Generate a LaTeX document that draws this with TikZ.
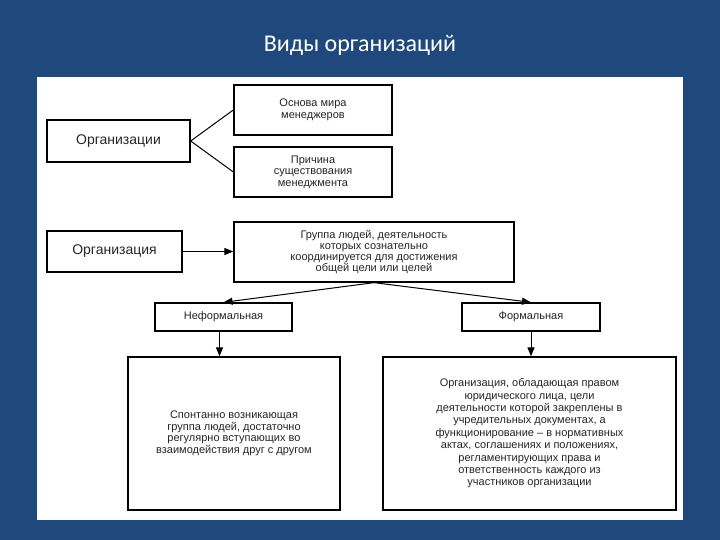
\documentclass[tikz,border=0pt]{standalone}
\usepackage{fontspec}
\setmainfont{Liberation Sans}
\newfontfamily\titlefont{Carlito}
\usetikzlibrary{arrows.meta}
\definecolor{bgblue}{HTML}{1F497D}
\begin{document}
\begin{tikzpicture}[x=1pt,y=-1pt,
  bx/.style={draw=black,line width=1.3pt,fill=white,align=center,font=\fontsize{11}{11.5}\selectfont,text=black!85,inner sep=2pt},
  ln/.style={line width=1pt},
  ar/.style={line width=1pt,-{Triangle[length=9pt,width=7pt]}}]
\fill[bgblue] (0,0) rectangle (720,540);
\useasboundingbox (0,0) rectangle (720,540);
\fill[white] (37,77) rectangle (683,520);
\node[text=white,font=\titlefont\fontsize{24}{28}\selectfont] (title) at (360,45) {Виды организаций};
\node[bx,minimum width=143pt,minimum height=42pt,font=\fontsize{14}{16}\selectfont] (org1) at (118.5,141) {Организации};
\node[bx,minimum width=158pt,minimum height=50pt] (osn) at (313,110) {Основа мира\\менеджеров};
\node[bx,minimum width=158pt,minimum height=50pt] (prich) at (313,172) {Причина\\существования\\менеджмента};
\node[bx,minimum width=135pt,minimum height=41pt,font=\fontsize{14}{16}\selectfont] (org2) at (114.5,251.5) {Организация};
\node[bx,minimum width=280pt,minimum height=60pt,font=\fontsize{11}{11.2}\selectfont] (grp) at (374,252) {Группа людей, деятельность\\которых сознательно\\координируется для достижения\\общей цели или целей};
\node[bx,minimum width=137pt,minimum height=28pt] (inf) at (223.5,317) {Неформальная};
\node[bx,minimum width=138pt,minimum height=28pt] (form) at (531,317) {Формальная};
\node[bx,minimum width=212pt,minimum height=153pt] (linf) at (234,433.5) {Спонтанно возникающая\\группа людей, достаточно\\регулярно вступающих во\\взаимодействия друг с другом};
\node[bx,minimum width=293pt,minimum height=153pt,font=\fontsize{11}{12.4}\selectfont] (rform) at (529.5,433.5) {Организация, обладающая правом\\юридического лица, цели\\деятельности которой закреплены в\\учредительных документах, а\\функционирование -- в нормативных\\актах, соглашениях и положениях,\\регламентирующих права и\\ответственность каждого из\\участников организации};
\draw[ln] (osn.west) -- (org1.east) -- (prich.west);
\draw[ar] (org2.east) -- (org2.east -| grp.west);
\draw[ar] (grp.south) -- (inf.north);
\draw[ar] (grp.south) -- (form.north);
\draw[ar] ([xshift=-4pt]inf.south) -- ([xshift=-4pt]inf.south |- linf.north);
\draw[ar] (form.south) -- (form.south |- rform.north);
\end{tikzpicture}
\end{document}
